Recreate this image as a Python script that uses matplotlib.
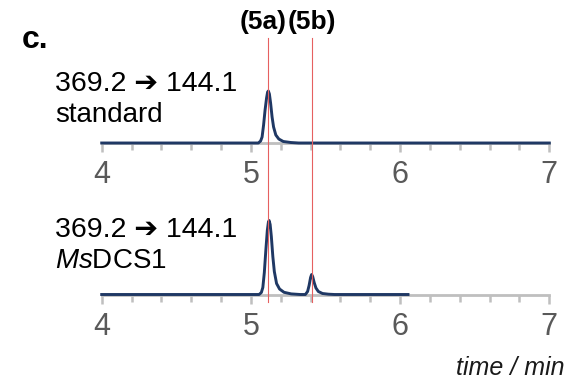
import matplotlib
matplotlib.use("Agg")
import matplotlib.pyplot as plt
from matplotlib.ticker import MultipleLocator

plt.rcParams['font.family'] = ['Liberation Sans', 'DejaVu Sans']
plt.rcParams['mathtext.fontset'] = 'custom'
plt.rcParams['mathtext.rm'] = 'Liberation Sans'
plt.rcParams['mathtext.it'] = 'Liberation Sans:italic'

# Chromatogram traces, MRM 369.2 -> 144.1 (intensity in arbitrary units)
std_time = [4.00, 5.050, 5.065, 5.075, 5.085, 5.095, 5.105, 5.112, 5.117,
            5.124, 5.132, 5.142, 5.152, 5.167, 5.187, 5.217, 5.267, 5.320, 7.00]
std_int = [0.0, 0.0, 0.2, 0.6, 1.8, 3.3, 4.5, 5.1, 5.2,
           4.9, 4.0, 2.6, 1.6, 0.8, 0.4, 0.15, 0.05, 0.0, 0.0]

dcs_time = [4.00, 5.055, 5.070, 5.080, 5.090, 5.100, 5.110, 5.117, 5.122,
            5.129, 5.137, 5.147, 5.157, 5.172, 5.192, 5.222, 5.270, 5.330,
            5.365, 5.380, 5.390, 5.400, 5.407, 5.414, 5.424, 5.436, 5.452,
            5.480, 5.520, 5.560, 6.053]
dcs_int = [0.0, 0.0, 0.2, 0.7, 2.2, 4.4, 6.4, 7.2, 7.4,
           7.0, 5.8, 3.8, 2.3, 1.1, 0.55, 0.22, 0.06, 0.0,
           0.0, 0.3, 0.9, 1.7, 2.0, 1.8, 1.2, 0.65, 0.3,
           0.1, 0.03, 0.0, 0.0]

# Retention times of the two products
rt_5a = 5.117
rt_5b = 5.410

x_ticks = [4, 5, 6, 7]
transition = "369.2 \u2794 144.1"
sample_names = ["standard", "$\\mathit{Ms}$DCS1"]

W, H = 568, 381
fig = plt.figure(figsize=(W / 100, H / 100), dpi=100)

NAVY = '#1f3864'
GRAY = '#bfbfbf'
TICKC = '#595959'
left = 101.7 / W
width = 447.6 / W


def fy(py):
    return 1 - py / H


def make_axes(base_px):
    ax = fig.add_axes([left, fy(base_px), width, 100 / H])
    ax.set_xlim(4, 7)
    ax.set_ylim(0, 10)
    for s in ('top', 'right', 'left'):
        ax.spines[s].set_visible(False)
    ax.spines['bottom'].set_color(GRAY)
    ax.spines['bottom'].set_linewidth(2.0)
    ax.patch.set_alpha(0)
    ax.set_yticks([])
    ax.set_xticks(x_ticks)
    ax.xaxis.set_minor_locator(MultipleLocator(0.2))
    ax.tick_params(axis='x', which='major', length=6.5, width=1.8, color=GRAY,
                   labelsize=22, labelcolor=TICKC, pad=6)
    ax.tick_params(axis='x', which='minor', length=5, width=1.8, color=GRAY)
    return ax


ax_top = make_axes(143)
ax_top.plot(std_time, std_int, color=NAVY, lw=2.1, clip_on=False,
            solid_joinstyle='round', zorder=3)

ax_bot = make_axes(294.5)
ax_bot.plot(dcs_time, dcs_int, color=NAVY, lw=2.1, clip_on=False,
            solid_joinstyle='round', zorder=3)

# Overlay with retention-time markers spanning both traces
ov = fig.add_axes([left, 0, width, 1], zorder=10)
ov.set_xlim(4, 7)
ov.set_ylim(H, 0)
ov.axis('off')
ov.patch.set_alpha(0)
for rt in (rt_5a, rt_5b):
    ov.plot([rt, rt], [38, 302], color='#e66060', lw=0.8)

fig.text(263 / W, fy(29), "(5a)", ha='center', va='baseline',
         fontsize=19, fontweight='bold')
fig.text(312 / W, fy(29), "(5b)", ha='center', va='baseline',
         fontsize=19, fontweight='bold')
fig.text(22 / W, fy(48), "c.", ha='left', va='baseline',
         fontsize=23, fontweight='bold')

for name, base in zip(sample_names, (91, 237)):
    fig.text(55 / W, fy(base), transition, ha='left', va='baseline',
             fontsize=20.5)
    fig.text(55 / W, fy(base + 31), name, ha='left',
             va='baseline', fontsize=20)

fig.text(564 / W, fy(375), "time / min", ha='right', va='baseline',
         fontsize=18, style='italic', color='#1a1a1a')

fig.savefig("out.png", dpi=100)
